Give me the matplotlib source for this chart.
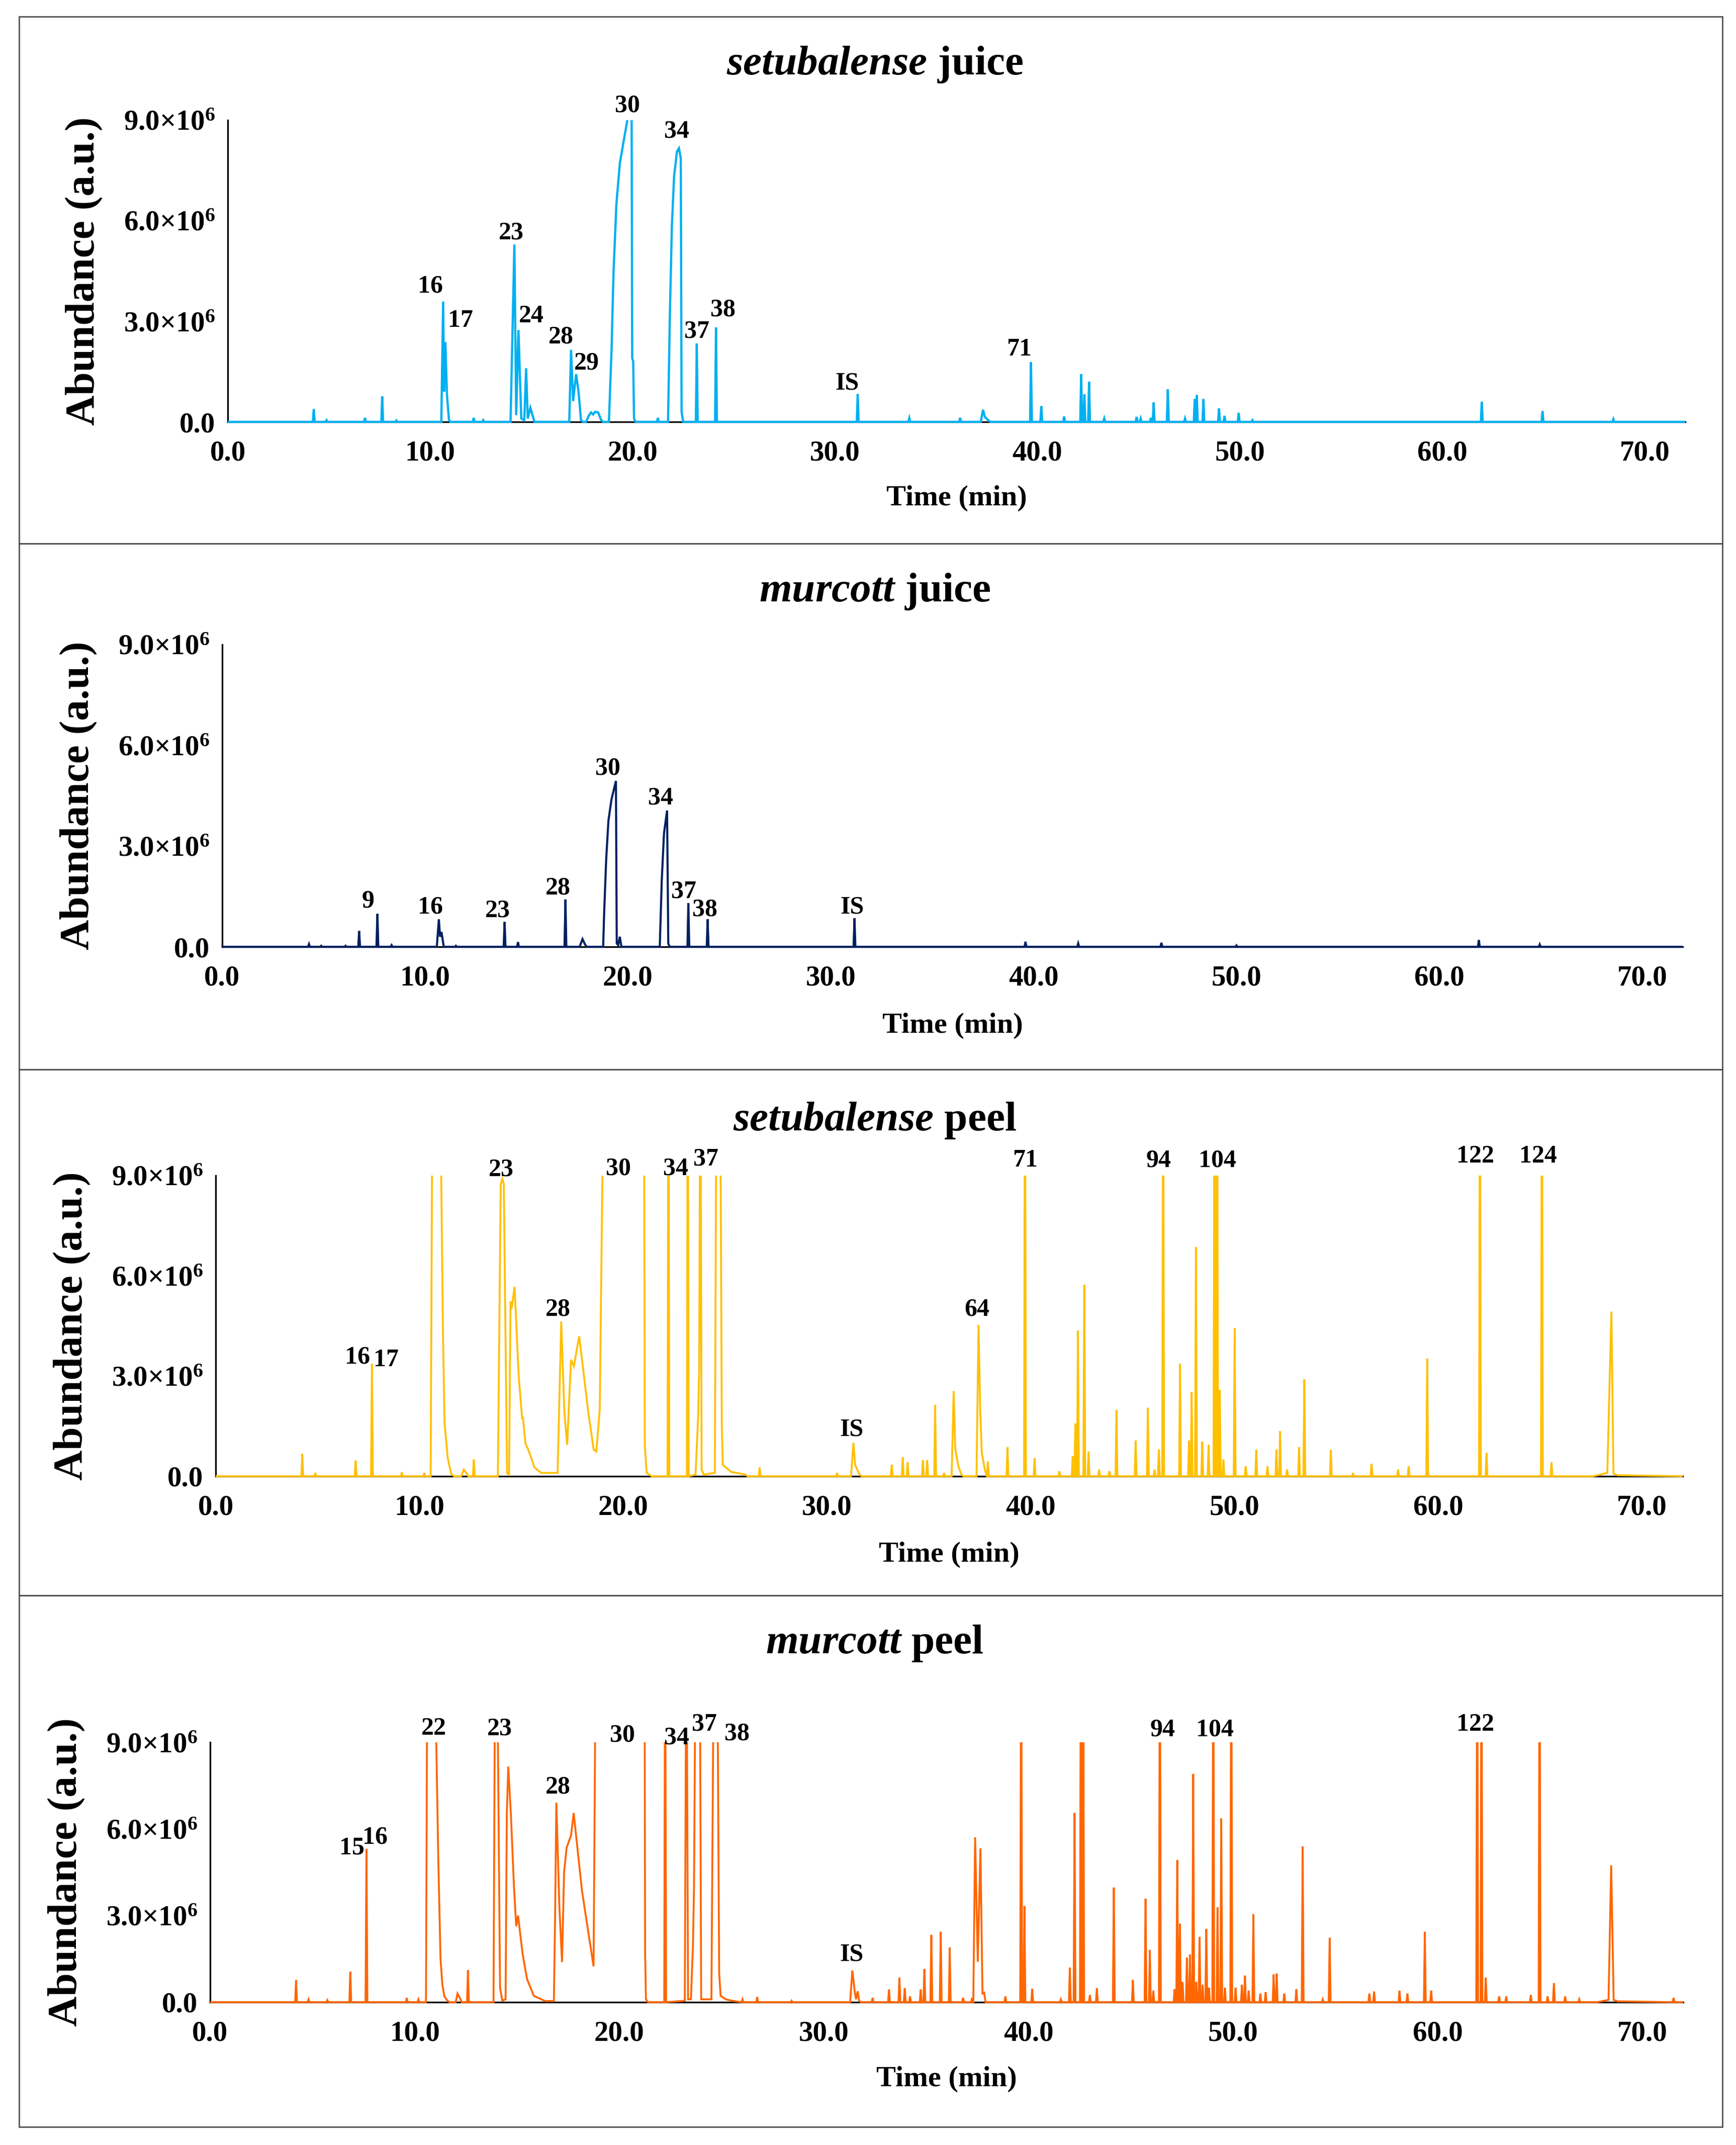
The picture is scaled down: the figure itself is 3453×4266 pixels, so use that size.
import numpy as np
import matplotlib
matplotlib.use('Agg')
import matplotlib.pyplot as plt
from matplotlib.patches import Rectangle

plt.rcParams['font.family'] = ['Liberation Serif', 'DejaVu Serif']
plt.rcParams['font.weight'] = 'bold'
plt.rcParams['mathtext.fontset'] = 'custom'
plt.rcParams['mathtext.rm'] = 'Liberation Serif:bold'
plt.rcParams['mathtext.it'] = 'Liberation Serif:bold:italic'
plt.rcParams['mathtext.bf'] = 'Liberation Serif:bold'

# ---------------- data (abundance in 1e6 a.u., time in min) ----------------
x_ticks = [0, 10, 20, 30, 40, 50, 60, 70]
x_tick_labels = ["0.0", "10.0", "20.0", "30.0", "40.0", "50.0", "60.0", "70.0"]
y_ticks = [0, 3e6, 6e6, 9e6]
y_tick_labels = ["0.0", "3.0×10$^{6}$", "6.0×10$^{6}$", "9.0×10$^{6}$"]

titles = [("setubalense", "juice"), ("murcott", "juice"),
          ("setubalense", "peel"), ("murcott", "peel")]
colors = ["#00B0F0", "#002060", "#FFC000", "#FF6600"]

# setubalense juice: isolated peaks (rt, height)
setj_peaks = [(4.25, 0.38), (4.88, 0.05), (6.78, 0.12), (7.63, 0.76), (8.33, 0.04),
              (12.15, 0.12), (12.62, 0.05), (21.25, 0.12), (23.17, 2.34), (24.12, 2.82),
              (31.12, 0.83), (33.67, 0.11), (36.18, 0.12), (39.68, 1.78), (40.19, 0.47),
              (41.32, 0.16), (42.16, 1.42), (42.32, 0.82), (42.55, 1.2), (43.3, 0.1),
              (44.9, 0.15), (45.1, 0.1), (45.6, 0.12), (45.74, 0.58), (46.44, 0.97),
              (47.29, 0.1), (47.77, 0.68), (47.87, 0.8), (48.2, 0.68), (48.97, 0.4),
              (49.24, 0.18), (49.94, 0.27), (50.62, 0.05), (61.95, 0.6), (64.95, 0.32),
              (68.45, 0.08)]
# setubalense juice: multi-point profiles
setj_seg_t = [[10.55, 10.64, 10.69, 10.75, 10.83, 10.93, 11.0],
              [13.97, 14.16, 14.25, 14.36, 14.5, 14.65, 14.74, 14.82, 14.95, 15.15],
              [16.87, 16.96, 17.06, 17.21, 17.33, 17.45, 17.55],
              [17.7, 17.85, 17.95, 18.05, 18.15, 18.3, 18.45, 18.55],
              [18.83, 18.96, 19.06, 19.2, 19.37, 19.74, 19.85, 19.95, 19.98, 20.03, 20.07, 20.15],
              [21.75, 21.84, 21.94, 22.05, 22.19, 22.29, 22.38, 22.42, 22.5],
              [37.2, 37.31, 37.4, 37.6, 37.7]]
setj_seg_y = [[0, 3.59, 0.9, 2.38, 0.8, 0.05, 0],
              [0, 5.29, 0.2, 2.74, 0.1, 0.05, 1.6, 0.1, 0.42, 0],
              [0, 2.15, 0.62, 1.42, 0.9, 0.05, 0],
              [0, 0.2, 0.28, 0.22, 0.3, 0.28, 0.05, 0],
              [0, 2.15, 4.5, 6.5, 7.72, 9.0, 10.0, 9.5, 1.9, 1.8, 0.1, 0],
              [0, 3.16, 5.84, 7.32, 8.06, 8.16, 7.86, 0.3, 0],
              [0, 0.36, 0.15, 0.03, 0]]
setj_labels = [("16", 10.0, 4.05), ("17", 11.5, 3.02), ("23", 14.0, 5.63), ("24", 15.0, 3.15),
               ("28", 16.45, 2.53), ("29", 17.72, 1.75), ("30", 19.75, 9.42), ("34", 22.17, 8.66),
               ("37", 23.18, 2.7), ("38", 24.47, 3.34), ("IS", 30.6, 1.15), ("71", 39.1, 2.16)]

# murcott juice
murj_peaks = [(4.28, 0.08), (4.88, 0.03), (6.08, 0.03), (6.75, 0.47), (7.65, 0.98),
              (8.35, 0.05), (11.52, 0.03), (13.92, 0.74), (14.58, 0.14), (16.92, 1.41),
              (22.98, 1.3), (23.93, 0.82), (31.17, 0.85), (39.6, 0.15), (42.2, 0.1),
              (46.3, 0.12), (50.0, 0.04), (61.95, 0.2), (64.95, 0.07)]
murj_seg_t = [[10.58, 10.68, 10.74, 10.81, 10.92],
              [17.62, 17.76, 17.88, 17.96],
              [18.78, 18.83, 18.93, 19.04, 19.19, 19.41, 19.45, 19.52, 19.6, 19.68],
              [21.57, 21.67, 21.78, 21.93, 21.99, 22.06]]
murj_seg_y = [[0, 0.82, 0.3, 0.44, 0],
              [0, 0.23, 0.08, 0],
              [0, 1.04, 2.62, 3.76, 4.39, 4.94, 0.1, 0.05, 0.3, 0],
              [0, 1.99, 3.38, 4.06, 0.1, 0]]
murj_labels = [("9", 7.2, 1.36), ("16", 10.25, 1.17), ("23", 13.57, 1.07), ("28", 16.55, 1.74),
               ("30", 19.0, 5.31), ("34", 21.62, 4.42), ("37", 22.75, 1.64), ("38", 23.78, 1.1),
               ("IS", 31.05, 1.17)]

# setubalense peel
setp_peaks = [(4.25, 0.67), (4.89, 0.1), (6.87, 0.47), (7.67, 3.37), (9.14, 0.12),
              (10.24, 0.1), (12.67, 0.5), (22.22, 14), (23.17, 14), (26.7, 0.27),
              (30.5, 0.1), (33.18, 0.34), (33.72, 0.57), (33.96, 0.42), (34.71, 0.48),
              (34.92, 0.48), (35.31, 2.13), (35.75, 0.1), (37.9, 0.44), (38.86, 0.87),
              (39.72, 14), (40.19, 0.54), (41.41, 0.15), (42.06, 0.6), (42.19, 1.58),
              (42.32, 4.36), (42.63, 5.73), (42.84, 0.74), (43.36, 0.2), (43.86, 0.15),
              (44.21, 1.98), (45.15, 1.07), (45.75, 2.05), (46.08, 0.2), (46.29, 0.8),
              (46.5, 14), (47.33, 3.37), (47.77, 1.07), (47.9, 2.52), (48.11, 6.86),
              (48.42, 1.04), (48.73, 0.94), (49.02, 14), (49.15, 14), (49.28, 2.58),
              (49.46, 0.5), (50.01, 4.43), (50.55, 0.3), (51.07, 0.79), (51.62, 0.3),
              (52.06, 0.8), (52.24, 1.35), (52.58, 0.2), (53.17, 0.87), (53.43, 2.9),
              (54.73, 0.79), (55.82, 0.1), (56.73, 0.37), (58.03, 0.2), (58.55, 0.3),
              (59.46, 3.52), (62.05, 14), (62.37, 0.7), (65.09, 14), (65.56, 0.42)]
setp_seg_t = [[10.55, 10.62, 10.7, 11.0, 11.06, 11.15, 11.23, 11.39, 11.56, 11.7],
              [12.05, 12.18, 12.3, 12.4],
              [13.85, 13.99, 14.07, 14.14, 14.3, 14.4, 14.47, 14.52, 14.67, 14.87, 15.04, 15.08,
               15.2, 15.42, 15.64, 15.97, 16.7, 16.78],
              [16.78, 16.96, 17.11, 17.25, 17.44, 17.58, 17.84, 18.28, 18.55, 18.68, 18.85, 18.99,
               19.5, 20.5, 21.03, 21.06, 21.15, 21.4],
              [23.55, 23.68, 23.73, 23.79, 23.85, 23.95],
              [24.5, 24.56, 24.67, 24.78, 24.84, 24.89, 25.3, 26.0, 26.1],
              [31.18, 31.3, 31.38, 31.46, 31.6, 31.7],
              [36.12, 36.22, 36.3, 36.45, 36.6, 36.7],
              [37.34, 37.44, 37.52, 37.6, 37.75, 37.85],
              [67.6, 68.3, 68.5, 68.6, 68.8]]
setp_seg_y = [[0, 9.5, 14, 14, 9.5, 4.5, 1.6, 0.54, 0.07, 0],
              [0, 0.2, 0.1, 0],
              [0, 8.75, 8.9, 8.75, 0.1, 0.05, 5.23, 5.0, 5.67, 3.0, 1.74, 1.75,
               1.0, 0.67, 0.27, 0.1, 0.1, 0.1],
              [0.1, 4.63, 1.95, 0.94, 3.49, 3.29, 4.19, 1.95, 0.8, 0.74, 2.0, 9.5,
               14, 14, 9.5, 0.94, 0.1, 0],
              [0.05, 1.81, 3.2, 14, 0.2, 0.05],
              [0.1, 9.5, 14, 9.5, 1.5, 0.34, 0.13, 0.05, 0],
              [0, 1.0, 0.35, 0.23, 0.05, 0],
              [0, 2.55, 0.8, 0.3, 0.05, 0],
              [0, 4.53, 2.0, 0.7, 0.2, 0],
              [0.0, 0.1, 4.93, 0.08, 0.03]]
setp_labels = [("16", 6.97, 3.56), ("17", 8.37, 3.48), ("23", 14.0, 9.17), ("28", 16.81, 4.99),
               ("30", 19.76, 9.2), ("34", 22.57, 9.2), ("37", 24.05, 9.49), ("IS", 31.21, 1.39),
               ("64", 37.37, 4.99), ("71", 39.72, 9.45), ("94", 46.28, 9.45), ("104", 49.16, 9.45),
               ("122", 61.82, 9.57), ("124", 64.9, 9.57)]

# murcott peel
murp_peaks = [(4.2, 0.77), (4.81, 0.1), (5.73, 0.07), (6.85, 1.06), (7.64, 5.3), (9.61, 0.15),
              (10.18, 0.1), (12.6, 1.11), (22.24, 14), (26.02, 0.1), (26.74, 0.18), (28.42, 0.05),
              (32.38, 0.15), (33.18, 0.44), (33.69, 0.85), (33.95, 0.48), (34.21, 0.2),
              (34.73, 0.44), (34.91, 1.15), (35.25, 2.33), (35.71, 2.44), (36.15, 1.89),
              (36.8, 0.15), (37.24, 0.15), (38.87, 0.2), (39.64, 14), (39.8, 3.33), (40.18, 0.46),
              (41.58, 0.1), (42.02, 1.2), (42.25, 6.55), (42.56, 14), (42.67, 14), (43.0, 0.25),
              (43.34, 0.48), (44.17, 3.97), (45.1, 0.77), (45.72, 3.58), (45.93, 1.81),
              (46.1, 0.4), (46.42, 14), (47.14, 0.45), (47.27, 4.92), (47.4, 2.72), (47.53, 0.7),
              (47.74, 1.54), (47.89, 1.65), (48.05, 7.9), (48.2, 0.7), (48.36, 2.26),
              (48.51, 0.6), (48.69, 2.53), (48.82, 0.5), (49.03, 14), (49.24, 3.28),
              (49.42, 6.36), (49.6, 0.5), (49.91, 14), (50.12, 0.5), (50.43, 0.6), (50.58, 0.92),
              (50.76, 0.4), (50.99, 3.05), (51.33, 0.3), (51.59, 0.35), (51.98, 0.96),
              (52.13, 0.99), (52.5, 0.3), (53.09, 0.45), (53.4, 5.39), (54.38, 0.1),
              (54.72, 2.23), (56.66, 0.3), (56.89, 0.37), (58.13, 0.4), (58.52, 0.3),
              (59.37, 2.44), (59.68, 0.4), (61.93, 14), (62.14, 14), (62.35, 0.85), (63.0, 0.2),
              (63.35, 0.2), (64.55, 0.25), (64.98, 14), (65.37, 0.2), (65.68, 0.66),
              (66.23, 0.2), (66.92, 0.1), (71.53, 0.15)]
murp_seg_t = [[10.55, 10.6, 10.7, 10.98, 11.04, 11.15, 11.26, 11.35, 11.45, 11.6, 11.7],
              [12.0, 12.09, 12.2, 12.3],
              [13.85, 13.91, 13.98, 14.06, 14.17, 14.28, 14.44, 14.5, 14.57, 14.7, 14.85, 14.96,
               15.05, 15.27, 15.49, 15.82, 16.37, 16.8],
              [16.8, 16.86, 16.92, 17.07, 17.2, 17.3, 17.42, 17.64, 17.77, 18.17, 18.74, 18.82,
               19.5, 20.8, 21.24, 21.26, 21.3, 21.4],
              [23.2, 23.28, 23.36, 23.5, 23.6, 23.65, 23.7, 23.85, 23.95, 24.0],
              [24.5, 24.59, 24.7, 24.81, 24.88, 24.95, 25.2, 25.5],
              [31.28, 31.39, 31.5, 31.57, 31.65, 31.72, 31.8],
              [37.3, 37.39, 37.52, 37.65, 37.75, 37.83, 37.9],
              [67.8, 68.35, 68.48, 68.6, 68.8]]
murp_seg_y = [[0, 9.5, 14, 14, 9.5, 5.0, 1.5, 0.6, 0.2, 0.05, 0],
              [0, 0.3, 0.15, 0],
              [0, 9.5, 14, 9.5, 0.5, 0.05, 0.1, 6.51, 8.16, 6.5, 4.0, 2.63,
               3.0, 1.68, 0.8, 0.22, 0.04, 0.04],
              [0.04, 3.0, 6.91, 3.29, 1.39, 4.5, 5.34, 5.78, 6.55, 3.88, 1.24, 9.5,
               14, 14, 9.5, 1.7, 0.1, 0],
              [0.05, 14, 0.1, 0.1, 2.0, 4.0, 9.5, 14, 9.5, 0.1],
              [0.1, 9.5, 14, 9.5, 1.0, 0.22, 0.1, 0.05],
              [0, 1.1, 0.4, 0.1, 0.38, 0.05, 0],
              [0, 5.71, 1.4, 5.33, 0.3, 0.33, 0],
              [0.0, 0.08, 4.74, 0.08, 0.03]]
murp_labels = [("15", 6.94, 5.33), ("16", 8.07, 5.7), ("22", 10.94, 9.47), ("23", 14.14, 9.47),
               ("28", 17.01, 7.45), ("30", 20.15, 9.24), ("34", 22.81, 9.14), ("37", 24.15, 9.61),
               ("38", 25.75, 9.28), ("IS", 31.35, 1.65), ("94", 46.56, 9.42), ("104", 49.1, 9.42),
               ("122", 61.84, 9.61)]

# ---------------- layout (pixel geometry of the reference) ----------------
W, H = 3453, 4266
T_MAX = 72.0
HALF_W = 0.045  # half base width of a narrow peak (min)

# axes boxes in pixels: left, right, top(9e6), bottom(0)
ax_px = [(453, 3352, 239, 839),
         (442, 3347, 1282, 1883),
         (429, 3347, 2338, 2936),
         (418, 3348, 3465, 3982)]
title_y = [128, 1176, 2228, 3268]
xlabel_y = [991, 2040, 3092, 4135]
panel_tops = [33, 1081, 2127, 3173]
panel_bottom = 4230
frame_l, frame_r = 38, 3426
line_w = [3.2, 3.0, 2.7, 2.7]


def build_trace(peaks, seg_t, seg_y):
    pts = [0.0, T_MAX]
    for r, _ in peaks:
        pts += [r - HALF_W, r, r + HALF_W]
    for st in seg_t:
        pts += list(st)
    grid = np.unique(np.array(pts))
    y = np.zeros_like(grid)
    for r, h in peaks:
        y = np.maximum(y, np.interp(grid, [r - HALF_W, r, r + HALF_W], [0, h, 0], left=0, right=0))
    for st, sy in zip(seg_t, seg_y):
        y = np.maximum(y, np.interp(grid, st, sy, left=0, right=0))
    return grid, y * 1e6


traces = [(setj_peaks, setj_seg_t, setj_seg_y, setj_labels),
          (murj_peaks, murj_seg_t, murj_seg_y, murj_labels),
          (setp_peaks, setp_seg_t, setp_seg_y, setp_labels),
          (murp_peaks, murp_seg_t, murp_seg_y, murp_labels)]

fig = plt.figure(figsize=(W / 100, H / 100), dpi=100)

# panel frames
edges = panel_tops + [panel_bottom]
for i in range(4):
    top, bot = edges[i], edges[i + 1]
    fig.add_artist(Rectangle((frame_l / W, 1 - bot / H), (frame_r - frame_l) / W, (bot - top) / H,
                             transform=fig.transFigure, fill=False, edgecolor="#505050",
                             linewidth=2.0))

for i, (peaks, seg_t, seg_y, labels) in enumerate(traces):
    l, r, t, b = ax_px[i]
    ax = fig.add_axes([l / W, 1 - b / H, (r - l) / W, (b - t) / H])
    tt, yy = build_trace(peaks, seg_t, seg_y)
    ln, = ax.plot(tt, yy, color=colors[i], lw=line_w[i], zorder=3, solid_joinstyle='miter')
    clip = Rectangle((0, -0.05), 1, 1.05, transform=ax.transAxes, visible=False)
    ax.add_patch(clip)
    ln.set_clip_path(clip)
    ax.set_xlim(0, T_MAX)
    ax.set_ylim(0, 9e6)
    ax.set_xticks(x_ticks)
    ax.set_xticklabels(x_tick_labels)
    ax.set_yticks(y_ticks)
    ax.set_yticklabels(y_tick_labels)
    ax.tick_params(axis='both', length=0, labelsize=41)
    ax.tick_params(axis='x', pad=26)
    ax.tick_params(axis='y', pad=18)
    for s in ['top', 'right']:
        ax.spines[s].set_visible(False)
    for s in ['left', 'bottom']:
        ax.spines[s].set_linewidth(2.4)
        ax.spines[s].set_color('black')
        ax.spines[s].set_zorder(2.5)
    for lab in ax.get_xticklabels() + ax.get_yticklabels():
        lab.set_fontweight('bold')
    for txt, x, y in labels:
        ax.text(x, y * 1e6, txt, ha='center', va='center', fontsize=36, fontweight='bold',
                clip_on=False, zorder=5)
    # title, axis labels
    it, rest = titles[i]
    fig.text(1740 / W, 1 - title_y[i] / H, r"$\mathit{" + it + "}$ " + rest, ha='center',
             va='center', fontsize=60, fontweight='bold')
    fig.text(((l + r) / 2) / W, 1 - xlabel_y[i] / H, "Time (min)", ha='center', va='center',
             fontsize=42, fontweight='bold')
    fig.text((l - 285) / W, 1 - ((t + b) / 2) / H, "Abundance (a.u.)", ha='center', va='center',
             rotation=90, fontsize=60, fontweight='bold')

fig.savefig("out.png", dpi=100)
